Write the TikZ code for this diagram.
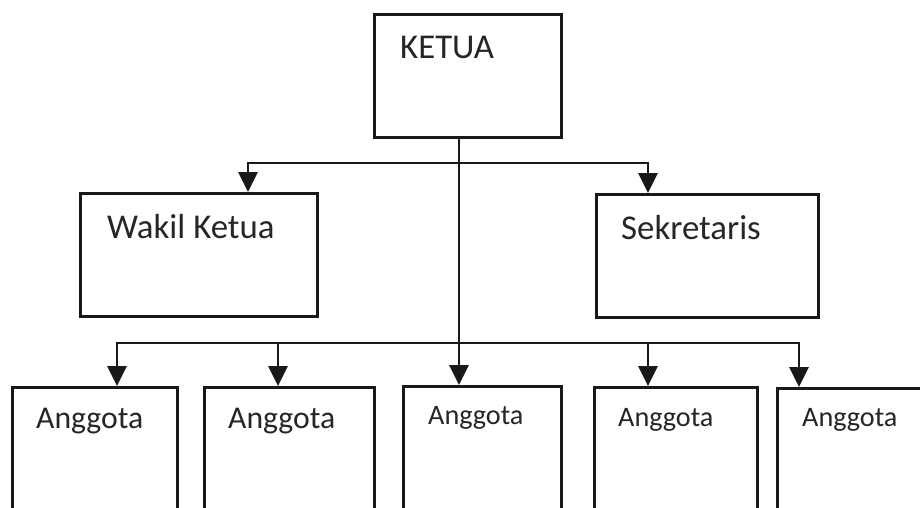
\documentclass[tikz,border=0pt]{standalone}
\usepackage{fontspec}
\setmainfont{Carlito}
\usetikzlibrary{arrows.meta}
\begin{document}
\begin{tikzpicture}[x=1pt,y=-1pt,
  box/.style={draw=black!90,line width=2.9pt,rectangle,inner sep=0pt,anchor=north west},
  lbl/.style={anchor=base west,inner sep=0pt,text=black!85},
  big/.style={font=\fontsize{34.8}{42}\selectfont},
  mid/.style={font=\fontsize{31.7}{38}\selectfont},
  small/.style={font=\fontsize{28.2}{34}\selectfont},
  conn/.style={draw=black!90,line width=2.9pt},
  arr/.style={conn,-{Triangle[width=19pt,length=20pt]}}]
\useasboundingbox (0,0) rectangle (920,508);
\clip (0,0) rectangle (920,508);
\fill[white] (0,0) rectangle (920,508);
% boxes
\node[box,minimum width=187pt,minimum height=123pt] (ketua) at (373,13) {};
\node[box,minimum width=237pt,minimum height=123pt] (wakil) at (79,192) {};
\node[box,minimum width=222pt,minimum height=123pt] (sek) at (595,193) {};
\node[box,minimum width=165pt,minimum height=160pt] (a1) at (11,386) {};
\node[box,minimum width=170pt,minimum height=160pt] (a2) at (203,386) {};
\node[box,minimum width=158pt,minimum height=160pt] (a3) at (402,385) {};
\node[box,minimum width=163pt,minimum height=160pt] (a4) at (593,386) {};
\node[box,minimum width=170pt,minimum height=160pt] (a5) at (776,387) {};
% labels
\node[lbl,big] (tketua) at (400,59) {KETUA};
\node[lbl,big] (twakil) at (107,238) {Wakil Ketua};
\node[lbl,big] (tsek) at (621,239) {Sekretaris};
\node[lbl,mid] (ta1) at (36,428) {Anggota};
\node[lbl,mid] (ta2) at (228,428) {Anggota};
\node[lbl,small] (ta3) at (428,424) {Anggota};
\node[lbl,small] (ta4) at (618,426) {Anggota};
\node[lbl,small] (ta5) at (802,426) {Anggota};
% junctions
\coordinate (j1) at (459,163);
\coordinate (j2) at (459,343);
% connectors
\draw[arr] (j1 |- ketua.south) -- (j1 |- a3.north);
\draw[arr] (j1) -| ([xshift=169pt]wakil.north west);
\draw[arr] (j1) -| ([xshift=53pt]sek.north west);
\draw[arr] (j2) -| ([xshift=106pt]a1.north west);
\draw[arr] (j2) -| ([xshift=75pt]a2.north west);
\draw[arr] (j2) -| ([xshift=55pt]a4.north west);
\draw[arr] (j2) -| ([xshift=23pt]a5.north west);
\end{tikzpicture}
\end{document}
